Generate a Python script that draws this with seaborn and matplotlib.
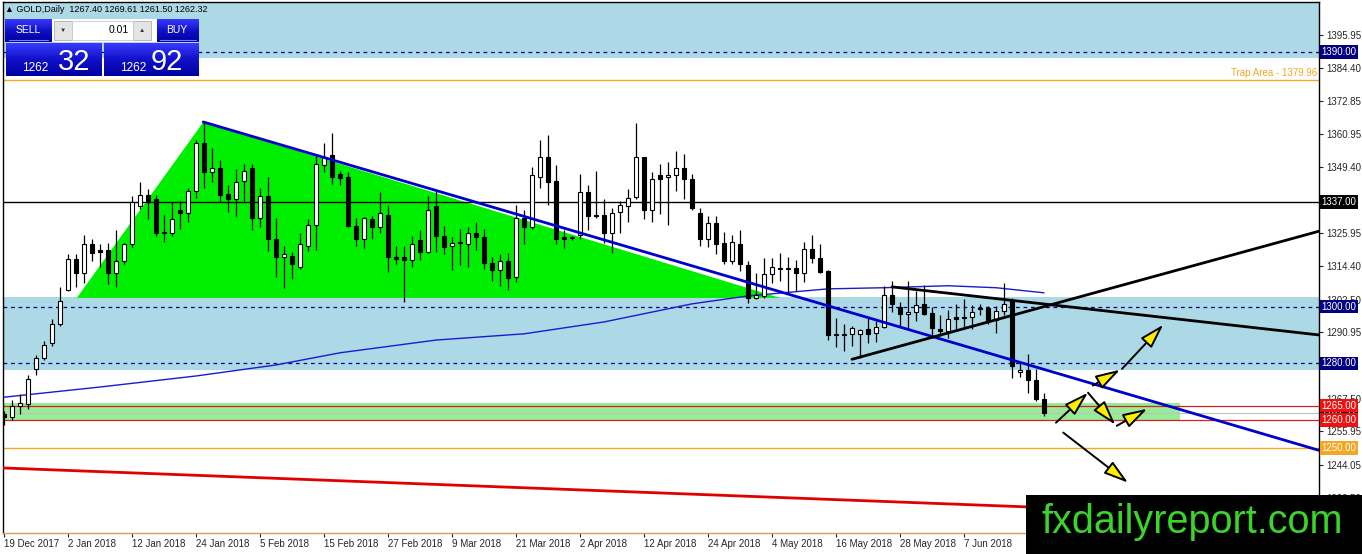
import numpy as np
import pandas as pd
import matplotlib
matplotlib.use('Agg')
import matplotlib.pyplot as plt
import matplotlib.transforms as mtransforms
from matplotlib.patches import Rectangle, Polygon, FancyArrowPatch
from matplotlib.colors import LinearSegmentedColormap
import seaborn as sns

# daily candles, bar 0 = 19 Dec 2017
opens = [1262, 1261, 1265, 1265.5, 1278, 1282, 1287, 1294, 1306, 1317,
         1312, 1322, 1320, 1320, 1312, 1316, 1322, 1335.5, 1339.5, 1338,
         1326.5, 1326, 1334, 1333, 1341, 1357.7, 1347.5, 1349, 1340, 1338,
         1344.5, 1349, 1331.5, 1339, 1324, 1317.5, 1318, 1314, 1321.5, 1329,
         1350, 1353.5, 1347, 1346, 1328.5, 1324, 1331, 1328, 1332.5, 1317.5,
         1317.5, 1316.5, 1323.5, 1319.5, 1335.5, 1325, 1321.5, 1322.5, 1322.3, 1326,
         1324.5, 1315.5, 1313, 1316, 1310.5, 1331.5, 1328, 1346, 1353, 1344.5,
         1324.5, 1324.3, 1325.5, 1340.7, 1332.5, 1332.5, 1326, 1333.5, 1335.5, 1338.6,
         1352.8, 1334.3, 1346.4, 1345.7, 1346.7, 1349, 1345, 1333.2, 1324, 1329.7,
         1322.6, 1316, 1322.3, 1314.8, 1303.1, 1303.8, 1311.6, 1313.8, 1313.4, 1313.8,
         1312, 1320.5, 1317.3, 1312.7, 1290.2, 1290, 1290.4, 1290.4, 1292.1, 1290.7,
         1292.8, 1304.2, 1300, 1297.5, 1298.2, 1301, 1297.8, 1292.1, 1291.4, 1296.2,
         1296, 1296.4, 1299.6, 1299.6, 1295.3, 1298.5, 1302.4, 1277, 1277.6, 1274,
         1267.4]
highs = [1263, 1267, 1269, 1276, 1283, 1288, 1295.5, 1307, 1318.5, 1318.5,
         1325.5, 1324, 1322, 1322.5, 1327, 1322.5, 1339, 1344, 1341.5, 1339.5,
         1332.5, 1337, 1337.5, 1342, 1359, 1365.5, 1356, 1352, 1343, 1348.5,
         1350.5, 1350.5, 1342, 1345.7, 1331.5, 1321.5, 1319.5, 1326, 1331, 1353.5,
         1357.7, 1361.3, 1348, 1347.5, 1331.5, 1331.7, 1332, 1340.4, 1336, 1321.5,
         1321.5, 1325, 1327, 1339, 1341, 1328.5, 1324.5, 1327.3, 1328, 1330,
         1327.5, 1317.5, 1318.7, 1319, 1336, 1334, 1349.5, 1359, 1360.6, 1350,
         1327.2, 1325, 1347, 1343, 1347.8, 1338.2, 1335, 1337.5, 1341.5, 1364.8,
         1353, 1347.5, 1350.5, 1351, 1355, 1354, 1347, 1335, 1332, 1331.9,
         1326.5, 1325.5, 1327.2, 1316.2, 1311.8, 1317.3, 1317.3, 1319, 1317.7, 1316.6,
         1323, 1325.5, 1322, 1313, 1296, 1294, 1293, 1292.2, 1296, 1295,
         1307.3, 1309, 1301.5, 1309, 1305.5, 1307.5, 1300, 1297, 1298.9, 1301,
         1302.8, 1300.5, 1301, 1300.3, 1300.3, 1308.5, 1303, 1280, 1283.3, 1277.8,
         1269.61]
lows = [1258, 1260, 1262, 1264, 1276, 1281, 1286, 1293, 1305.5, 1307,
        1308.5, 1316, 1314, 1308, 1307, 1315, 1321, 1334.5, 1331, 1325,
        1323, 1325, 1327.5, 1330, 1338.5, 1342, 1344, 1337, 1333.5, 1332,
        1337.5, 1327, 1328, 1319.8, 1310.5, 1306.7, 1309.8, 1313.4, 1319.8, 1320,
        1347.5, 1343.5, 1343, 1328, 1321.5, 1320.6, 1324, 1326, 1312.3, 1315,
        1301.7, 1314, 1316.5, 1319, 1319.5, 1318.5, 1313, 1314.7, 1314, 1320,
        1313.4, 1309, 1307.4, 1306, 1308.8, 1322.3, 1327.5, 1342, 1336, 1322,
        1320.9, 1323.5, 1324, 1327, 1331.5, 1322.5, 1319, 1326, 1330, 1338,
        1331, 1330, 1332.7, 1329, 1341, 1338, 1334.3, 1321.5, 1321, 1318.7,
        1315, 1315, 1312.5, 1301.3, 1302.7, 1303, 1308.4, 1309, 1305.3, 1305.6,
        1308.8, 1315.5, 1311.8, 1288.2, 1285.7, 1284.3, 1286, 1281.8, 1287, 1287.5,
        1292.5, 1298, 1293, 1292, 1295, 1297, 1289, 1289.8, 1289, 1291.4,
        1292, 1292, 1297, 1294, 1290.7, 1297, 1274.8, 1275, 1269.4, 1266.5,
        1261.5]
closes = [1261, 1265, 1266, 1274.5, 1282, 1286.5, 1294, 1302, 1317, 1312,
          1322, 1319, 1319.5, 1312, 1316, 1322, 1337, 1339.5, 1337.5, 1326,
          1326, 1331, 1333, 1341, 1358, 1347.5, 1349, 1339.5, 1338, 1344,
          1348, 1331.5, 1339, 1324, 1317.5, 1318.5, 1315, 1322, 1329, 1350.5,
          1353, 1346, 1345.5, 1328.5, 1324, 1331.5, 1328, 1333, 1317.5, 1317,
          1316.5, 1322, 1319.5, 1334, 1325, 1321, 1322.5, 1322.7, 1326, 1324.5,
          1315.5, 1313, 1316, 1310, 1331.5, 1328, 1346.7, 1353, 1344, 1324,
          1324, 1324.4, 1340.7, 1332, 1332, 1326, 1333, 1336, 1338.5, 1352.8,
          1334.3, 1345, 1345.3, 1346.7, 1349, 1345, 1335, 1324, 1329.7, 1322.3,
          1316, 1323, 1315, 1303.1, 1304.2, 1311.6, 1314.1, 1313.4, 1313.8, 1312,
          1320.5, 1317.3, 1312.3, 1290, 1290, 1290.2, 1292.5, 1291.8, 1290.4, 1292.8,
          1304.2, 1301, 1297.5, 1298.2, 1300.6, 1297.5, 1292.5, 1291.4, 1295.7, 1295.8,
          1296.2, 1298.2, 1299.2, 1295.3, 1298.5, 1301, 1279, 1277.6, 1274, 1267.3,
          1262.32]

# moving average, read at a few bars
ma_bars = [0, 12, 24, 34, 42, 54, 65, 75, 86, 93, 103, 110, 118, 124, 130]
ma_vals = [1268.0, 1271.6, 1275.5, 1279.4, 1283.7, 1288.2, 1290.4, 1294.6,
           1301.0, 1303.8, 1306.3, 1306.7, 1307.4, 1306.7, 1304.9]

date_bars = [0, 8, 16, 24, 32, 40, 48, 56, 64, 72, 80, 88, 96, 104, 112, 120]
date_labels = ['19 Dec 2017', '2 Jan 2018', '12 Jan 2018', '24 Jan 2018', '5 Feb 2018',
               '15 Feb 2018', '27 Feb 2018', '9 Mar 2018', '21 Mar 2018', '2 Apr 2018',
               '12 Apr 2018', '24 Apr 2018', '4 May 2018', '16 May 2018', '28 May 2018',
               '7 Jun 2018']

price_ticks = [1395.95, 1384.40, 1372.85, 1360.95, 1349.40, 1337.85, 1325.95, 1314.40,
               1302.50, 1290.95, 1279.40, 1267.50, 1255.95, 1244.05, 1232.50]
hidden_ticks = [1337.85, 1279.40]  # sit under the level boxes

# drawn objects
tri_x = [9.1, 24.9, 97.0]
tri_y = [1303.1, 1365.2, 1303.1]
blue_trend_x = [24.9, 164.4]
blue_trend_y = [1365.3, 1249.2]
red_trend_x = [-0.2, 164.4]
red_trend_y = [1243.0, 1225.3]
black_up_x = [106.0, 164.4]
black_up_y = [1281.4, 1326.7]
black_down_x = [111.0, 164.4]
black_down_y = [1307.0, 1290.0]
arrow_x0 = [131.5, 135.5, 139.1, 136.1, 139.75, 132.4]
arrow_y0 = [1259.0, 1269.6, 1257.9, 1272.1, 1278.0, 1255.5]
arrow_x1 = [135.5, 138.9, 142.9, 139.5, 144.9, 140.5]
arrow_y1 = [1269.6, 1258.3, 1263.9, 1277.7, 1293.6, 1237.8]

level_labels = ['1390.00', '1337.00', '1300.00', '1280.00', '1262.32', '1265.00', '1260.00', '1250.00']
level_prices = [1390.0, 1337.0, 1300.0, 1280.0, 1262.32, 1265.0, 1260.0, 1250.0]
level_colors = ['#000080', '#000000', '#000080', '#000080', '#000000', '#ee1111', '#ee1111', '#f5a623']

sns.set_style('white')
plt.rcParams['font.family'] = ['Liberation Sans', 'DejaVu Sans']

W, H = 1362, 554
fig = plt.figure(figsize=(W / 100, H / 100), dpi=100)
ax = fig.add_axes([3 / W, 21 / H, 1316 / W, 531 / H])
ax.set_xlim(-0.125, 164.375)
ax.set_ylim(1220.0, 1407.7)

df = pd.DataFrame({'bar': np.arange(len(opens)), 'open': opens, 'high': highs,
                   'low': lows, 'close': closes})

# zones
ax.axhspan(1387.9, 1410, color='#add8e6', zorder=0, lw=0)
ax.axhspan(1277.6, 1303.5, color='#add8e6', zorder=0, lw=0)
ax.fill_between([-0.2, 147.0], 1260.0, 1266.0, color='#98ec98', lw=0, zorder=0)
ax.add_patch(Polygon(list(zip(tri_x, tri_y)), closed=True, fc='#00ee00', ec='none', zorder=1))

# horizontal levels
for p in [1390.0, 1300.0, 1280.0]:
    ax.axhline(p, color='#000080', lw=0.9, ls=(0, (3, 3)), zorder=2)
ax.axhline(1379.96, color='#f5a623', lw=1, zorder=2)
ax.axhline(1337.0, color='black', lw=1, zorder=2)
ax.axhline(1262.32, color='#c0c0c0', lw=0.8, zorder=2)
ax.axhline(1265.0, color='#d42020', lw=0.9, zorder=2)
ax.axhline(1260.0, color='#d42020', lw=0.9, zorder=2)
ax.axhline(1250.0, color='#f5a623', lw=1, zorder=2)
ax.text(0.999, 1380.9, 'Trap Area - 1379.96', transform=mtransforms.blended_transform_factory(ax.transAxes, ax.transData),
        ha='right', va='bottom', fontsize=7, color='#f5a623')

# moving average
sns.lineplot(x=ma_bars, y=ma_vals, ax=ax, color='#1a1ad0', lw=1, zorder=2)

# candles
up = df['close'] >= df['open']
ax.vlines(df['bar'], df['low'], df['high'], color='black', lw=0.9, zorder=3)
body_lo = np.minimum(df['open'], df['close'])
body_h = np.maximum(np.abs(df['close'] - df['open']), 0.25)
ax.bar(df['bar'], body_h, bottom=body_lo, width=0.62,
       color=np.where(up, 'white', 'black'), edgecolor='black', lw=0.8, zorder=3)

# trend lines
ax.plot(blue_trend_x, blue_trend_y, color='#0000cc', lw=2, zorder=4)
ax.plot(red_trend_x, red_trend_y, color='#e00000', lw=2, zorder=4)
ax.plot(black_up_x, black_up_y, color='black', lw=2, zorder=4)
ax.plot(black_down_x, black_down_y, color='black', lw=2, zorder=4)

for x0, y0, x1, y1 in zip(arrow_x0, arrow_y0, arrow_x1, arrow_y1):
    ax.add_patch(FancyArrowPatch((x0, y0), (x1, y1), arrowstyle='-|>,head_length=1.5,head_width=0.45',
                                 mutation_scale=10, fc='#ffee00', ec='black', lw=1.4,
                                 shrinkA=0, shrinkB=0, zorder=5))

# axes look
for side in ['left', 'top', 'right']:
    ax.spines[side].set_color('black')
    ax.spines[side].set_linewidth(1)
ax.spines['bottom'].set_color('#d4a05a')
ax.spines['bottom'].set_linewidth(1)
ax.yaxis.tick_right()
ax.set_yticks(price_ticks)
ax.set_yticklabels(['' if t in hidden_ticks else f'{t:.2f}' for t in price_ticks])
ax.set_xticks(date_bars)
ax.set_xticklabels(date_labels, ha='left')
ax.tick_params(axis='y', which='both', right=True, left=False, length=3, width=0.8, pad=2, labelsize=7)
ax.tick_params(axis='x', bottom=True, length=3, width=0.8, pad=1, labelsize=7)
ax.set_xlabel('')
ax.set_ylabel('')

# price boxes on the right axis
trans = mtransforms.blended_transform_factory(ax.transAxes, ax.transData)
for lab, p, c in zip(level_labels, level_prices, level_colors):
    ax.text(1.0018, p, lab, transform=trans, ha='left', va='center', fontsize=7, color='white',
            bbox=dict(boxstyle='square,pad=0.18', fc=c, ec='none'), zorder=6, clip_on=False)

# overlay in pixel units: trade panel and watermark
ov = fig.add_axes([0, 0, 1, 1], zorder=10)
ov.set_xlim(0, W)
ov.set_ylim(H, 0)
ov.axis('off')
ov.patch.set_alpha(0)

blue_grad = LinearSegmentedColormap.from_list('bg', ['#3a3aff', '#1010c8', '#0000a0'])
grad = np.linspace(0, 1, 50).reshape(-1, 1)


def blue_box(x0, y0, w, h):
    ov.imshow(grad, extent=(x0, x0 + w, y0 + h, y0), cmap=blue_grad, aspect='auto', zorder=11)


ov.text(5, 9, '\u25b2 GOLD,Daily  1267.40 1269.61 1261.50 1262.32', fontsize=6.5,
        va='center', ha='left', color='black', zorder=12)
ov.add_patch(Rectangle((52, 19), 105, 23, fc='white', ec='none', zorder=11))
blue_box(5, 19, 47, 23)
blue_box(157, 19, 42, 23)
blue_box(6, 43, 96, 33)
blue_box(104, 43, 95, 33)
ov.plot([9, 48], [40, 40], color='#7a7aff', lw=0.8, zorder=12)
ov.plot([160, 196], [40, 40], color='#7a7aff', lw=0.8, zorder=12)
ov.text(28, 30, 'SELL', fontsize=7.5, color='white', ha='center', va='center', zorder=12)
ov.text(177, 30, 'BUY', fontsize=7.5, color='white', ha='center', va='center', zorder=12)
ov.add_patch(Rectangle((54, 21), 18, 19, fc='#e4e4e4', ec='#b0b0b0', lw=0.6, zorder=12))
ov.add_patch(Rectangle((133, 21), 18, 19, fc='#e4e4e4', ec='#b0b0b0', lw=0.6, zorder=12))
ov.add_patch(Rectangle((72, 21), 61, 19, fc='white', ec='#c8c8c8', lw=0.6, zorder=12))
ov.text(63, 30, '\u25bc', fontsize=4.5, color='#333333', ha='center', va='center', zorder=13)
ov.text(142, 30, '\u25b2', fontsize=4.5, color='#333333', ha='center', va='center', zorder=13)
ov.text(129, 30, '0.01', fontsize=7.5, color='black', ha='right', va='center', zorder=13)
ov.text(22, 71, '1262', fontsize=8.5, color='white', ha='left', va='baseline', zorder=12)
ov.text(58, 70, '32', fontsize=21, color='white', ha='left', va='baseline', zorder=12)
ov.text(120, 71, '1262', fontsize=8.5, color='white', ha='left', va='baseline', zorder=12)
ov.text(151, 70, '92', fontsize=21, color='white', ha='left', va='baseline', zorder=12)

ov.add_patch(Rectangle((1026, 495), W - 1026, H - 495, fc='black', ec='none', zorder=11))
ov.text(1042, 533, 'fxdailyreport.com', fontsize=28.5, color='#3ad42a', ha='left',
        va='baseline', zorder=12)

fig.savefig('out.png', dpi=100)
